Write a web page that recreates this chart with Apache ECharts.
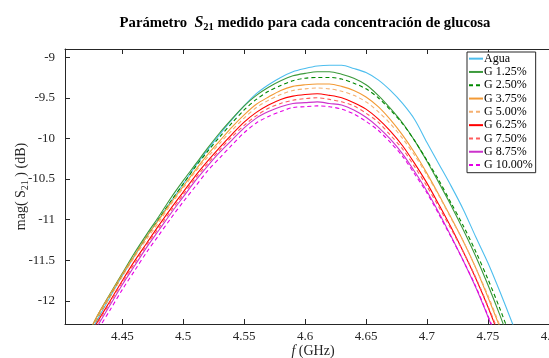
<!DOCTYPE html>
<html>
<head>
<meta charset="utf-8">
<script src="https://cdn.jsdelivr.net/npm/echarts@6/dist/echarts.min.js"></script>
<style>
html,body{margin:0;padding:0;background:#fff}
#chart{width:549px;height:358px}
</style>
</head>
<body>
<div id="chart"></div>
<script>
// frecuencias (GHz)
const freq = [4.42,4.43,4.44,4.45,4.46,4.47,4.48,4.49,4.50,4.51,4.52,4.53,4.54,4.55,4.56,4.57,4.58,4.59,4.60,
  4.61,4.62,4.63,4.64,4.65,4.66,4.67,4.68,4.69,4.70,4.71,4.72,4.73,4.74,4.75,4.76,4.77,4.78];

// |S21| en dB
const agua  = [-12.52,-12.22,-11.95,-11.69,-11.45,-11.21,-10.99,-10.77,-10.56,-10.34,-10.14,-9.95,-9.77,-9.60,-9.45,-9.34,-9.25,-9.18,-9.14,-9.11,-9.10,-9.10,-9.14,-9.19,-9.28,-9.41,-9.57,-9.77,-10.05,-10.32,-10.59,-10.88,-11.21,-11.53,-11.89,-12.27,-12.66];
const g125  = [-12.47,-12.17,-11.91,-11.66,-11.41,-11.18,-10.96,-10.73,-10.52,-10.32,-10.12,-9.93,-9.76,-9.60,-9.47,-9.37,-9.29,-9.23,-9.20,-9.18,-9.18,-9.21,-9.26,-9.34,-9.47,-9.63,-9.81,-10.03,-10.28,-10.55,-10.83,-11.13,-11.45,-11.80,-12.18,-12.59,-13.01];
const g250  = [-12.49,-12.20,-11.94,-11.68,-11.44,-11.21,-10.99,-10.77,-10.56,-10.35,-10.16,-9.98,-9.81,-9.65,-9.52,-9.42,-9.35,-9.29,-9.26,-9.25,-9.25,-9.27,-9.32,-9.39,-9.50,-9.65,-9.82,-10.03,-10.27,-10.52,-10.80,-11.08,-11.39,-11.73,-12.10,-12.50,-12.91];
const g375  = [-12.47,-12.17,-11.92,-11.67,-11.44,-11.21,-11.00,-10.79,-10.59,-10.39,-10.20,-10.03,-9.86,-9.71,-9.58,-9.49,-9.41,-9.36,-9.34,-9.33,-9.33,-9.36,-9.41,-9.49,-9.61,-9.77,-9.96,-10.18,-10.43,-10.70,-10.98,-11.27,-11.59,-11.95,-12.33,-12.74,-13.16];
const g500  = [-12.49,-12.20,-11.95,-11.70,-11.46,-11.24,-11.03,-10.81,-10.61,-10.41,-10.23,-10.06,-9.90,-9.75,-9.62,-9.53,-9.46,-9.41,-9.39,-9.38,-9.39,-9.42,-9.47,-9.55,-9.67,-9.82,-10.00,-10.21,-10.45,-10.71,-10.99,-11.27,-11.59,-11.93,-12.31,-12.71,-13.13];
const g625  = [-12.54,-12.25,-12.00,-11.75,-11.51,-11.29,-11.07,-10.86,-10.66,-10.46,-10.28,-10.11,-9.95,-9.80,-9.68,-9.59,-9.52,-9.48,-9.46,-9.45,-9.47,-9.50,-9.56,-9.64,-9.76,-9.91,-10.09,-10.31,-10.55,-10.82,-11.10,-11.40,-11.72,-12.07,-12.46,-12.86,-13.28];
const g750  = [-12.57,-12.27,-12.02,-11.77,-11.54,-11.31,-11.10,-10.89,-10.69,-10.49,-10.31,-10.14,-9.98,-9.84,-9.72,-9.63,-9.57,-9.53,-9.51,-9.50,-9.52,-9.55,-9.60,-9.69,-9.80,-9.96,-10.13,-10.35,-10.59,-10.85,-11.12,-11.40,-11.71,-12.06,-12.43,-12.84,-13.25];
const g875  = [-12.59,-12.30,-12.05,-11.80,-11.57,-11.34,-11.13,-10.92,-10.72,-10.52,-10.34,-10.17,-10.02,-9.87,-9.75,-9.67,-9.61,-9.57,-9.56,-9.55,-9.57,-9.59,-9.65,-9.74,-9.86,-10.01,-10.19,-10.41,-10.65,-10.92,-11.21,-11.51,-11.83,-12.19,-12.58,-12.98,-13.40];
const g1000 = [-12.65,-12.36,-12.11,-11.86,-11.63,-11.40,-11.19,-10.98,-10.78,-10.59,-10.40,-10.24,-10.08,-9.93,-9.81,-9.73,-9.67,-9.62,-9.61,-9.60,-9.61,-9.64,-9.70,-9.79,-9.90,-10.05,-10.22,-10.44,-10.67,-10.94,-11.22,-11.51,-11.82,-12.18,-12.55,-12.96,-13.38];

const names  = ['Agua','G 1.25%','G 2.50%','G 3.75%','G 5.00%','G 6.25%','G 7.50%','G 8.75%','G 10.00%'];
const colors = ['#4dbeee','#3c9a3c','#008800','#f39a35','#f5b070','#ff0000','#ff5c5c','#cc33cc','#e600e6'];
const dashed = [false,false,true,false,true,false,true,false,true];
const xTicks = [4.45,4.5,4.55,4.6,4.65,4.7,4.75,4.8];
const yTicks = [-12,-11.5,-11,-10.5,-10,-9.5,-9];

const curves = [agua,g125,g250,g375,g500,g625,g750,g875,g1000];
const serif = 'Liberation Serif';
const ink = '#262626';

var chart = echarts.init(document.getElementById('chart'));

var series = curves.map(function(vals,i){
    return {
        name: names[i],
        type: 'line',
        data: freq.map(function(f,k){ return [f, vals[k]]; }),
        symbol: 'none',
        showSymbol: false,
        smooth: 0.3,
        lineStyle: {color: colors[i], width: 1.1, type: dashed[i] ? [4,3] : 'solid'},
        itemStyle: {color: colors[i]}
    };
});

var tickStyle = {color: ink, width: 1};

var option = {
    animation: false,
    backgroundColor: '#fff',
    grid: {left: 65, top: 49, width: 496, height: 275, containLabel: false, outerBoundsMode: 'none'},
    graphic: [{
        type: 'text',
        x: 305, y: 23,
        style: {
            text: '{b|Parámetro  }{s|S}{sub|21}{b| medido para cada concentración de glucosa}',
            align: 'center',
            verticalAlign: 'middle',
            rich: {
                b: {fontFamily: serif, fontWeight: 'bold', fontSize: 14.7, fill: '#000'},
                s: {fontFamily: serif, fontStyle: 'italic', fontWeight: 'bold', fontSize: 16, fill: '#000'},
                sub: {fontFamily: serif, fontWeight: 'bold', fontSize: 10.5, fill: '#000', padding: [9,0,0,0]}
            }
        }
    }],
    legend: {
        orient: 'vertical',
        left: 467, top: 52,
        itemWidth: 14, itemHeight: 8, itemGap: 0,
        padding: [0,3,1,1],
        borderColor: ink, borderWidth: 1,
        backgroundColor: '#fff',
        itemStyle: {color: 'rgba(0,0,0,0)', borderWidth: 0, opacity: 0},
        textStyle: {fontFamily: serif, fontSize: 12, color: '#000', lineHeight: 13.3, padding: [0,0,0,-4]},
        data: names
    },
    xAxis: [{
        type: 'value',
        min: 4.403, max: 4.81,
        axisLine: {show: true, onZero: false, lineStyle: tickStyle},
        axisTick: {show: true, inside: true, length: 5, customValues: xTicks, lineStyle: tickStyle},
        axisLabel: {customValues: xTicks, fontFamily: serif, fontSize: 13, color: ink, margin: 6,
            formatter: function(v){ return String(+(+v).toFixed(2)); }},
        splitLine: {show: false},
        name: '{i|f} (GHz)',
        nameLocation: 'middle',
        nameGap: 20,
        nameMoveOverlap: false,
        nameTextStyle: {fontFamily: serif, fontSize: 14, color: ink,
            rich: {i: {fontFamily: serif, fontStyle: 'italic', fontSize: 14, color: ink}}}
    }, {
        type: 'value',
        position: 'top',
        min: 4.403, max: 4.81,
        axisLine: {show: true, onZero: false, lineStyle: tickStyle},
        axisTick: {show: true, inside: true, length: 5, customValues: xTicks, lineStyle: tickStyle},
        axisLabel: {show: false},
        splitLine: {show: false}
    }],
    yAxis: [{
        type: 'value',
        min: -12.283, max: -8.9,
        axisLine: {show: true, onZero: false, lineStyle: tickStyle},
        axisTick: {show: true, inside: true, length: 5, customValues: yTicks, lineStyle: tickStyle},
        axisLabel: {customValues: yTicks, fontFamily: serif, fontSize: 13, color: ink, margin: 10},
        splitLine: {show: false},
        name: 'mag( {s|S}{sub|21} ) (dB)',
        nameLocation: 'middle',
        nameRotate: 90,
        nameGap: 35,
        nameMoveOverlap: false,
        nameTextStyle: {fontFamily: serif, fontSize: 14, color: ink,
            rich: {
                s: {fontFamily: serif, fontSize: 14, color: ink},
                sub: {fontFamily: serif, fontSize: 10, color: ink, padding: [8,0,0,0]}
            }}
    }],
    series: series
};

chart.setOption(option);
</script>
</body>
</html>
